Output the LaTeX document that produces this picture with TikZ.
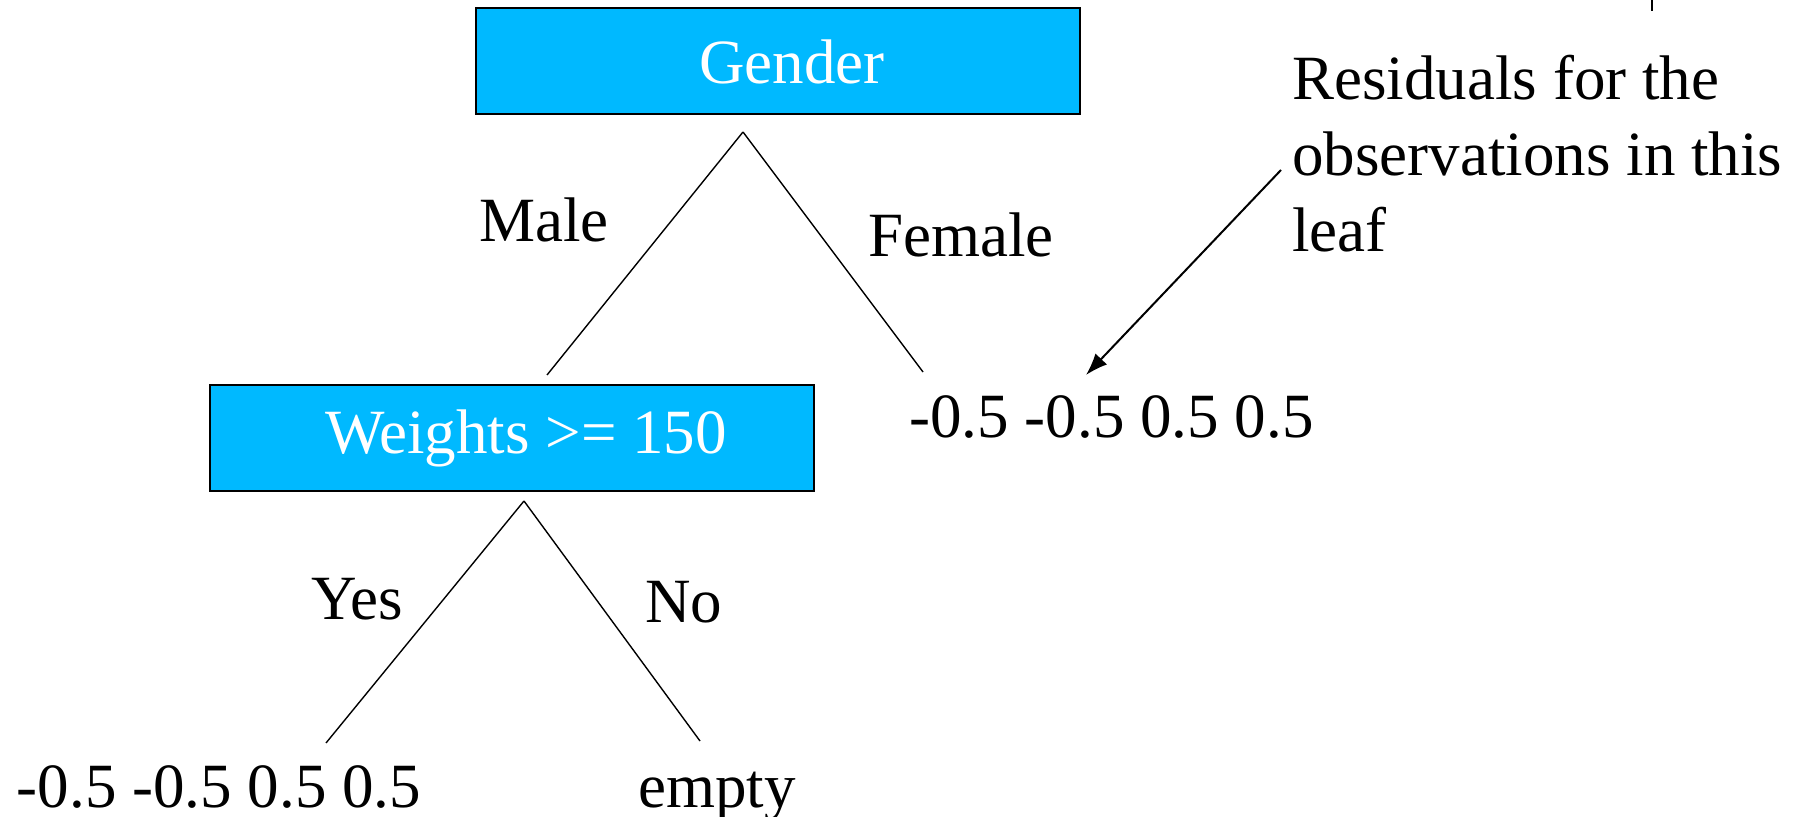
\documentclass[tikz,border=0pt]{standalone}
\usepackage{fontspec}
\setmainfont{Liberation Serif}
\usepackage{tikz}
\usetikzlibrary{arrows.meta}
\usetikzlibrary{positioning}
\definecolor{splitblue}{RGB}{0,185,255}
\tikzset{
    splitbox/.style={draw=black, fill=splitblue, text=white, line width=1pt,
        minimum width=302pt, minimum height=53pt, inner sep=0pt,
        execute at begin node={\hspace*{14pt}},
        font=\fontsize{31.5}{38}\selectfont},
    branch/.style={draw=black, line width=0.7pt},
    treelabel/.style={inner sep=0pt, anchor=base, font=\fontsize{31.5}{38}\selectfont},
    pointer/.style={draw=black, line width=1pt, -{Latex[length=11pt,width=8pt]}},
}
\begin{document}
\begin{tikzpicture}[x=0.5pt, y=-0.5pt]
			\useasboundingbox (0,0) rectangle (1806,817);
			% split nodes
			\node[splitbox] (gender) at (778,61.5) {Gender};
			\node[splitbox] (weights) at (512,438) {Weights >= 150};
			% branches
			\coordinate (gsplit) at (743,132);
			\coordinate (gmale) at (547,375);
			\coordinate (gfemale) at (923,372);
			\coordinate (wsplit) at (524,501);
			\coordinate (wyes) at (326,743);
			\coordinate (wno) at (700,741);
			\draw[branch] (gsplit) -- (gmale);
			\draw[branch] (gsplit) -- (gfemale);
			\draw[branch] (wsplit) -- (wyes);
			\draw[branch] (wsplit) -- (wno);
			\node[treelabel] (male) at (544,242) {Male};
			\node[treelabel] (female) at (961,257) {Female};
			\node[treelabel] (yes) at (357,620) {Yes};
			\node[treelabel] (no) at (684,623) {No};
			% leaves
			\node[treelabel] (femaleleaf) at (1111.5,438) {-0.5 -0.5 0.5 0.5};
			\node[treelabel] (yesleaf) at (219,808) {-0.5 -0.5 0.5 0.5};
			\node[treelabel] (noleaf) at (717,808) {empty};
			% note
			\node[treelabel, anchor=west, align=left] (residuals) at (1292,153.5)
				{Residuals for the\\observations in this\\leaf};
			\coordinate (notetail) at (1281,170);
			\coordinate (notehead) at (1086,375);
			\draw[pointer] (notetail) -- (notehead);
			\coordinate (ticktop) at (1652,0);
			\coordinate (tickbottom) at (1652,11);
			\draw[branch] (ticktop) -- (tickbottom);
		\end{tikzpicture}
\end{document}
